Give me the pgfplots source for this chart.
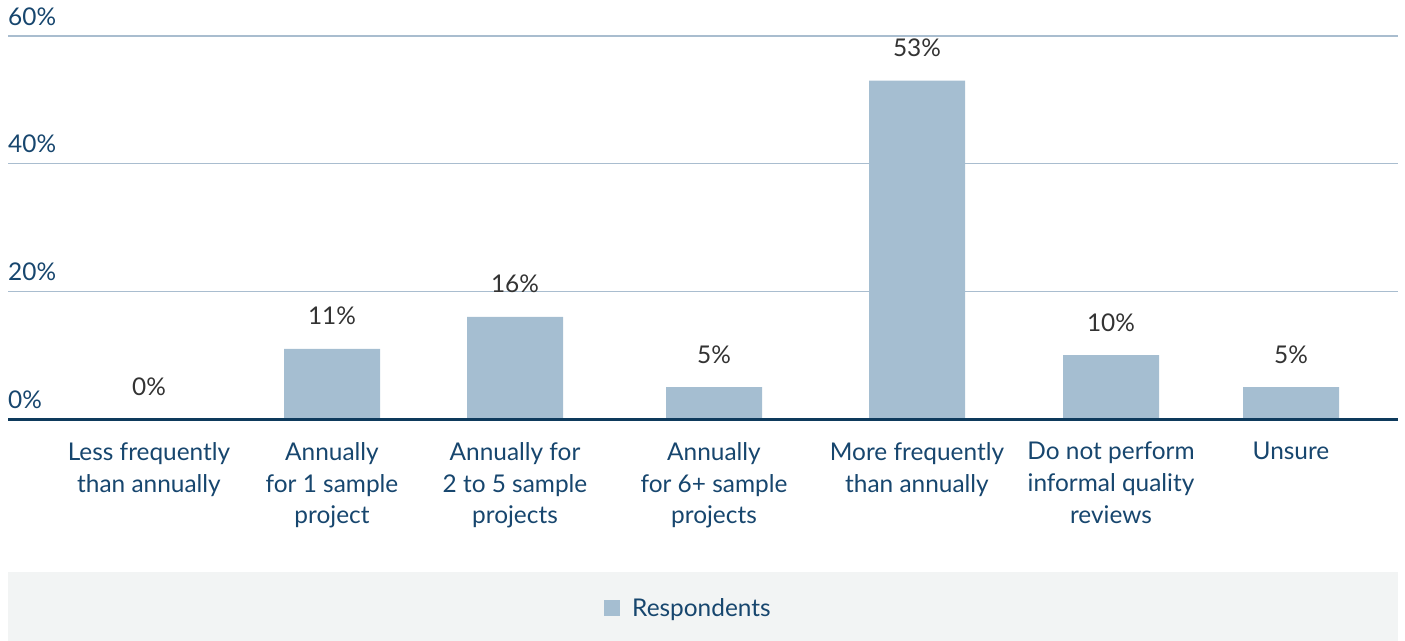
\documentclass[border=0pt]{standalone}
\usepackage{pgfplots}
\usepackage{pgfplotstable}
\pgfplotsset{compat=1.18}
\usepackage{fontspec}
\setmainfont{Lato}

\definecolor{barcol}{HTML}{A5BED1}
\definecolor{labcol}{HTML}{17466E}
\definecolor{axiscol}{HTML}{0E3A5C}
\definecolor{gridcol}{HTML}{A9BDCF}
\definecolor{valcol}{HTML}{333333}
\definecolor{legbg}{HTML}{F2F4F4}

% category centres (x) and share of respondents in percent (y)
\pgfplotstableread{
x    y
149  0
332  11
515  16
714  5
917  53
1111 10
1291 5
}\freqdata

\newcommand\chartfont{\fontsize{24.5}{32}\selectfont}

\begin{document}
\begin{tikzpicture}
\begin{axis}[
  name=ax,
  scale only axis, width=1390bp, height=383bp,
  xmin=8, xmax=1398, ymin=0, ymax=60,
  ybar, bar width=96,
  /pgf/number format/assume math mode=true,
  ytick={0,20,40,60}, yticklabels={0\%,20\%,40\%,60\%},
  xtick=data,
  xticklabels={{Less frequently\\than annually},
               {Annually\\for 1 sample\\project},
               {Annually for\\2 to 5 sample\\projects},
               {Annually\\for 6+ sample\\projects},
               {More frequently\\than annually},
               {Do not perform\\informal quality\\reviews},
               {Unsure}},
  major tick length=0pt,
  axis line style={draw=none},
  ymajorgrids, grid style={gridcol, line width=1.5bp},
  tick label style={font=\chartfont, text=labcol, inner sep=0pt},
  yticklabel style={anchor=base west, yshift=11bp},
  xticklabel style={anchor=north, align=center, yshift=-23bp},
  nodes near coords={\pgfmathprintnumber{\pgfplotspointmeta}\%},
  every node near coord/.append style={font=\chartfont,
    text=valcol, anchor=base, yshift=24bp, inner sep=0pt},
  clip=false,
  legend style={at={(0.4888,-0.4935)}, anchor=center, draw=none, fill=none,
    font=\chartfont, text=labcol, inner sep=0pt,
    nodes={inner sep=0pt}, column sep=12bp},
  legend image code/.code={\fill[barcol] (0bp,-8bp) rectangle (16bp,8bp);},
]
  % legend band
  \fill[legbg] (rel axis cs:0,-0.3995) rectangle (rel axis cs:1,-0.5796);
  \addplot[fill=barcol, draw=none] table[x=x, y=y] {\freqdata};
  \addlegendentry{Respondents}
  % baseline
  \draw[axiscol, line width=3bp] (rel axis cs:0,0) -- (rel axis cs:1,0);
\end{axis}
\pgfresetboundingbox
\path (ax.south west) ++(-8bp,-222bp) rectangle ++(1405bp,641bp);
\end{tikzpicture}
\end{document}
